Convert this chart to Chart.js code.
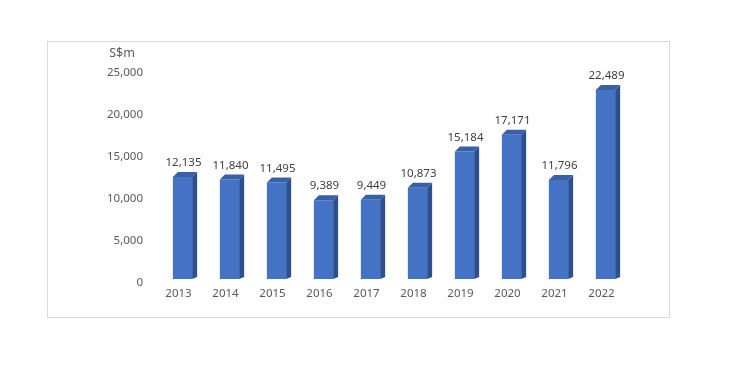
<!DOCTYPE html>
<html>
<head>
<meta charset="utf-8">
<script src="https://cdn.jsdelivr.net/npm/chart.js@4/dist/chart.umd.min.js"></script>
<style>
  body { margin: 0; background: #fff; }
  #box { position: absolute; left: 47px; top: 41px; width: 621px; height: 275px; border: 1px solid #d9d9d9; }
</style>
</head>
<body>
<div id="box"><canvas id="c" width="621" height="275"></canvas></div>
<script>
var years = ['2013', '2014', '2015', '2016', '2017', '2018', '2019', '2020', '2021', '2022'];
var values = [12135, 11840, 11495, 9389, 9449, 10873, 15184, 17171, 11796, 22489];
var yTicks = [0, 5000, 10000, 15000, 20000, 25000];
var unitLabel = 'S$m';

var FONT = '"Noto Sans", sans-serif';

// draws the side and top faces so the bars look like Excel 3D columns
var bars3d = {
  id: 'bars3d',
  afterDatasetsDraw: function (chart) {
    var ctx = chart.ctx;
    var meta = chart.getDatasetMeta(0);
    var dx = 5, dyTop = 5, dyBottom = 2;
    ctx.save();
    meta.data.forEach(function (bar, i) {
      var p = bar.getProps(['x', 'y', 'base', 'width'], true);
      var l = p.x - p.width / 2, r = p.x + p.width / 2;
      // side
      ctx.fillStyle = '#2d4f8e';
      ctx.beginPath();
      ctx.moveTo(r, p.y);
      ctx.lineTo(r + dx, p.y - dyTop);
      ctx.lineTo(r + dx, p.base - dyBottom);
      ctx.lineTo(r, p.base);
      ctx.closePath();
      ctx.fill();
      // top
      ctx.fillStyle = '#3860a8';
      ctx.beginPath();
      ctx.moveTo(l, p.y);
      ctx.lineTo(l + dx, p.y - dyTop);
      ctx.lineTo(r + dx, p.y - dyTop);
      ctx.lineTo(r, p.y);
      ctx.closePath();
      ctx.fill();
      // value label
      ctx.fillStyle = '#404040';
      ctx.font = '11.5px ' + FONT;
      ctx.textAlign = 'center';
      ctx.textBaseline = 'middle';
      ctx.fillText(values[i].toLocaleString('en-US'), p.x + 1, p.y - 14);
    });
    // unit label
    ctx.fillStyle = '#595959';
    ctx.font = '12.5px ' + FONT;
    ctx.textAlign = 'center';
    ctx.fillText(unitLabel, 74, 11);
    ctx.restore();
  }
};

new Chart(document.getElementById('c'), {
  type: 'bar',
  data: {
    labels: years,
    datasets: [{
      data: values,
      backgroundColor: '#4472c4',
      borderWidth: 0,
      barPercentage: 0.41,
      categoryPercentage: 1
    }]
  },
  options: {
    responsive: false,
    animation: false,
    layout: { padding: { top: 27, right: 40, left: 0, bottom: 0 } },
    plugins: { legend: { display: false }, tooltip: { enabled: false } },
    scales: {
      x: {
        grid: { display: false, drawTicks: false },
        border: { display: false },
        ticks: { color: '#595959', font: { family: FONT, size: 11.5 }, padding: 8, labelOffset: -4 },
        afterFit: function (s) { s.height = 38; }
      },
      y: {
        min: 0,
        max: 25000,
        grid: { display: false, drawTicks: false },
        border: { display: false },
        afterBuildTicks: function (s) { s.ticks = yTicks.map(function (v) { return { value: v }; }); },
        ticks: {
          color: '#595959',
          font: { family: FONT, size: 11.5 },
          padding: 16,
          labelOffset: 4,
          callback: function (v) { return v.toLocaleString('en-US'); }
        },
        afterFit: function (s) { s.width = 111; }
      }
    }
  },
  plugins: [bars3d]
});
</script>
</body>
</html>
